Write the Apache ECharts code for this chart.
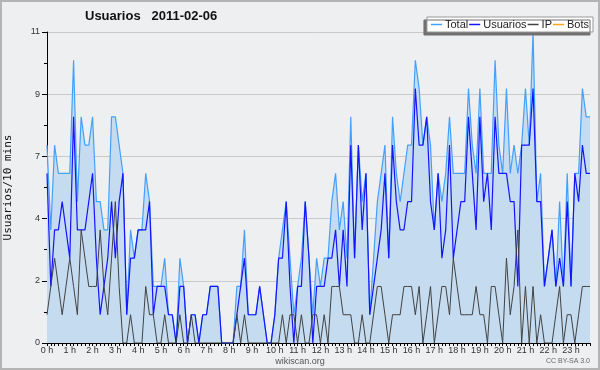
<!DOCTYPE html>
<html>
<head>
<meta charset="utf-8">
<script src="https://cdn.jsdelivr.net/npm/echarts@6/dist/echarts.min.js"></script>
<style>html,body{margin:0;padding:0;background:#eeeff1;}#c{width:600px;height:370px;}</style>
</head>
<body>
<div id="c"></div>
<script>
// 10-minute slots, 0h..23h50
const hourLabels = ['0 h','1 h','2 h','3 h','4 h','5 h','6 h','7 h','8 h','9 h','10 h','11 h',
  '12 h','13 h','14 h','15 h','16 h','17 h','18 h','19 h','20 h','21 h','22 h','23 h'];
const yTickLabels = ['0','2','4','7','9','11'];

const total = [
  7,4,7,6,6,6,6,10,5,8,7,7,
  8,5,5,4,4,8,8,7,6,1,4,3,
  4,4,6,5,2,2,2,3,1,1,0,3,
  2,0,1,1,0,1,1,2,2,2,0,0,
  0,0,2,2,4,1,1,1,2,1,0,0,
  1,3,4,5,3,1,2,3,5,3,1,3,
  2,3,3,5,6,4,5,3,8,3,7,5,
  6,1,3,5,6,7,3,8,6,5,6,7,
  7,10,9,7,8,7,4,6,5,6,8,6,
  6,6,6,9,7,6,9,6,6,6,10,7,
  6,9,6,7,6,7,9,7,11,5,6,2,
  3,4,2,5,2,6,2,6,6,9,8,8
];
const usuarios = [
  6,2,4,4,5,4,3,8,4,4,4,5,
  6,3,1,2,3,5,3,5,6,1,3,3,
  4,4,4,5,1,2,2,2,1,1,0,2,
  2,0,1,1,0,1,1,2,2,2,0,0,
  0,0,1,2,3,1,1,1,2,1,0,0,
  1,3,3,5,2,0,2,2,5,3,0,2,
  2,2,3,3,4,2,4,2,7,3,7,4,
  6,1,2,3,4,6,3,7,5,4,4,5,
  5,9,7,7,8,5,4,6,3,4,7,3,
  4,5,5,8,6,4,8,5,6,4,8,6,
  6,6,5,5,2,7,7,7,9,5,5,2,
  3,4,2,3,2,5,2,6,5,7,6,6
];
const ip = [
  1,2,3,2,1,2,3,2,1,4,3,2,
  2,2,4,2,1,3,5,2,0,0,1,0,
  0,0,2,1,1,0,0,1,0,0,0,1,
  0,0,1,0,0,0,0,0,0,0,0,0,
  0,0,1,0,1,0,0,0,0,0,0,0,
  0,0,1,0,1,1,0,1,0,0,1,1,
  0,1,0,2,2,2,1,1,1,0,0,1,
  0,0,1,2,2,1,0,1,1,1,2,2,
  2,1,2,0,1,2,0,1,2,2,1,3,
  2,1,1,1,1,2,1,1,0,2,2,1,
  0,3,1,2,4,0,2,0,2,0,1,0,
  0,0,1,2,0,1,1,0,1,2,2,2
];
const bots = [];

const categories = [];
for (let h = 0; h < 24; h++) {
  for (let m = 0; m < 60; m += 10) {
    categories.push(h + ':' + (m < 10 ? '0' + m : m));
  }
}

const chart = echarts.init(document.getElementById('c'), null, {renderer: 'canvas'});
chart.setOption({
  backgroundColor: '#eeeff1',
  animation: false,
  title: {
    text: 'Usuarios   2011-02-06',
    left: 85, top: 10, padding: 0,
    textStyle: {fontFamily: 'Liberation Sans', fontSize: 13, fontWeight: 'bold', color: '#111'}
  },
  legend: {
    right: 7, top: 17,
    padding: [2, 4, 2, 4],
    itemGap: 1,
    itemWidth: 11, itemHeight: 1.5,
    icon: 'rect',
    backgroundColor: '#ffffff',
    borderColor: '#999', borderWidth: 1,
    shadowColor: '#707070', shadowBlur: 0, shadowOffsetX: -3, shadowOffsetY: 3,
    textStyle: {fontFamily: 'Liberation Sans', fontSize: 11, color: '#222', padding: [0, 0, 0, -2]},
    data: ['Total', 'Usuarios', 'IP', 'Bots']
  },
  grid: {left: 47, right: 10, top: 32, bottom: 27, containLabel: false, outerBoundsMode: 'none'},
  xAxis: {
    type: 'category',
    data: categories,
    boundaryGap: false,
    axisLine: {lineStyle: {color: '#000', width: 1}},
    axisTick: {interval: 0, length: 3, lineStyle: {color: '#000'}},
    axisLabel: {
      interval: 5, margin: 3,
      fontFamily: 'Liberation Sans', fontSize: 9, color: '#333',
      formatter: function (v, idx) { return hourLabels[Math.floor(idx / 6)]; }
    },
    splitLine: {show: false}
  },
  yAxis: {
    type: 'value',
    min: 0, max: 11, interval: 2.2,
    name: 'Usuarios/10 mins',
    nameLocation: 'middle', nameRotate: 90, nameGap: 33,
    nameTextStyle: {fontFamily: 'DejaVu Sans Mono', fontSize: 11, color: '#111'},
    axisLine: {show: true, lineStyle: {color: '#000', width: 1}},
    axisTick: {show: true, length: 5, lineStyle: {color: '#000'}},
    minorTick: {show: true, splitNumber: 2, length: 3, lineStyle: {color: '#000'}},
    axisLabel: {
      margin: 7, fontFamily: 'Liberation Sans', fontSize: 9, color: '#333',
      formatter: function (v) { return yTickLabels[Math.round(v / 2.2)]; }
    },
    splitLine: {show: true, lineStyle: {color: '#c9c9c9', width: 1}}
  },
  series: [
    {
      name: 'Total', type: 'line', data: total, symbol: 'none',
      lineStyle: {color: '#43a0fb', width: 1.2},
      itemStyle: {color: '#43a0fb'},
      areaStyle: {color: '#c5dcf0', opacity: 1},
      z: 2
    },
    {
      name: 'Usuarios', type: 'line', data: usuarios, symbol: 'none',
      lineStyle: {color: '#1414ff', width: 1.2},
      itemStyle: {color: '#1414ff'},
      z: 3
    },
    {
      name: 'IP', type: 'line', data: ip, symbol: 'none',
      lineStyle: {color: '#424242', width: 1},
      itemStyle: {color: '#424242'},
      z: 4
    },
    {
      name: 'Bots', type: 'line', data: bots, symbol: 'none',
      lineStyle: {color: '#ffa31a', width: 1},
      itemStyle: {color: '#ffa31a'},
      z: 4
    }
  ],
  graphic: [
    {type: 'rect', shape: {x: 1, y: 1, width: 598, height: 368},
     style: {fill: null, stroke: '#b4b4b4', lineWidth: 2}, silent: true, z: 100},
    {type: 'text', left: 'center', top: 357,
     style: {text: 'wikiscan.org', font: '9px "Liberation Sans"', fill: '#555'}},
    {type: 'text', right: 10, top: 358,
     style: {text: 'CC BY-SA 3.0', font: '7px "Liberation Sans"', fill: '#666'}}
  ]
});
</script>
</body>
</html>
